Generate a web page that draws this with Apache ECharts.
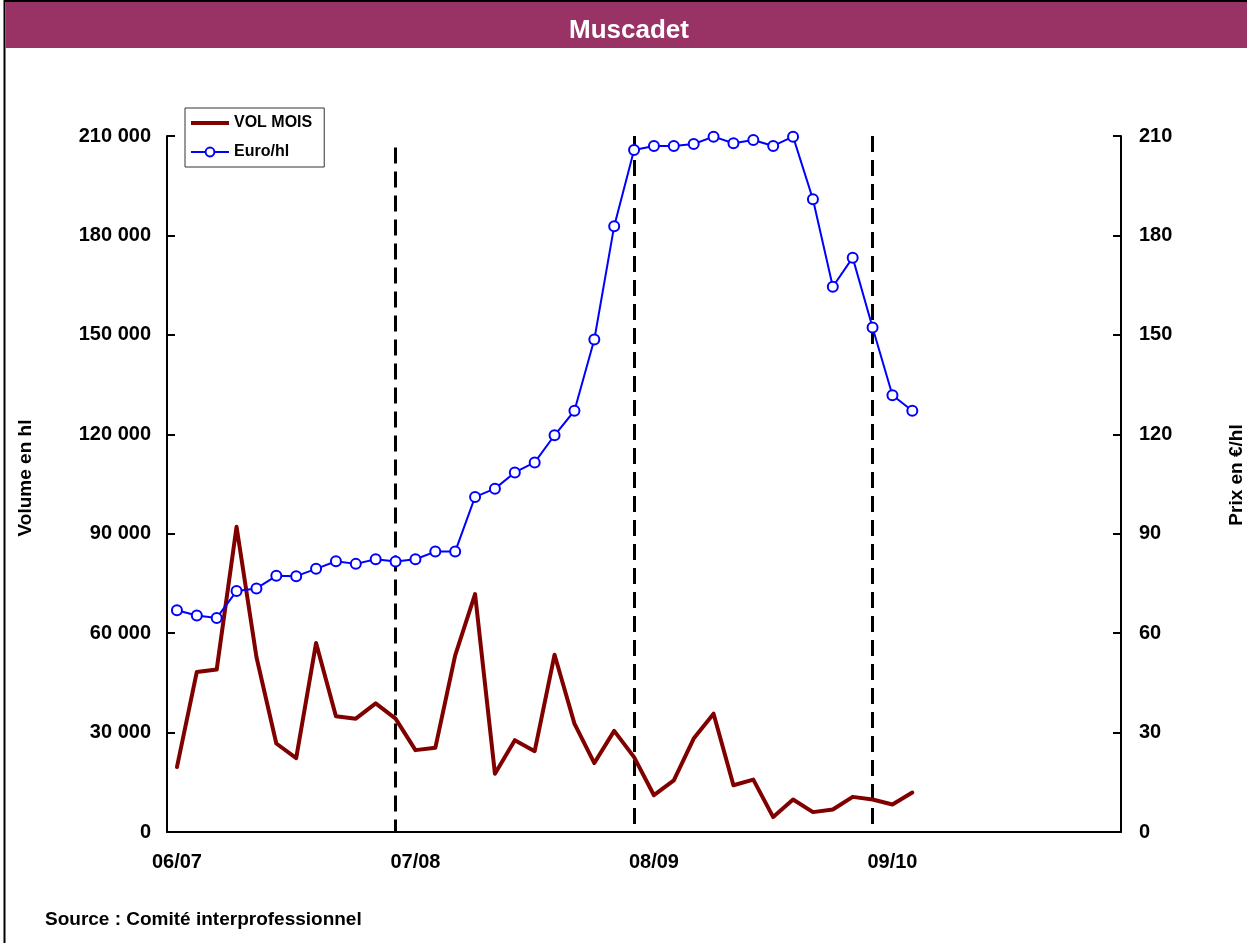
<!DOCTYPE html>
<html>
<head>
<meta charset="utf-8">
<script src="https://cdn.jsdelivr.net/npm/echarts@6/dist/echarts.min.js"></script>
<style>
  html, body { margin: 0; padding: 0; background: #fff; }
  #chart { width: 1247px; height: 943px; }
</style>
</head>
<body>
<div id="chart"></div>
<script>
// Season labels and where they sit on the monthly index
const seasonLabels = ['06/07', '07/08', '08/09', '09/10'];
const seasonLabelIdx = [0, 12, 24, 36];
// Month index of each season break (dashed separators)
const seasonBreakIdx = [11, 23, 35];
// Top of each dashed separator, in hl (left axis units)
const seasonBreakTop = [206500, 210000, 210000];

// Monthly volume (hl)
const volMois = [
  19600, 48300, 49000, 92100, 52800, 26700, 22300, 57000, 34900, 34200, 38800, 34200,
  24700, 25400, 53300, 71800, 17600, 27700, 24400, 53500, 32700, 20800, 30500, 22600,
  11100, 15600, 28200, 35700, 14100, 15800, 4500, 9800, 6000, 6800, 10600, 9800,
  8300, 11900
];
// Monthly price (€/hl)
const euroHl = [
  66.9, 65.3, 64.6, 72.7, 73.5, 77.3, 77.2, 79.4, 81.7, 80.9, 82.3, 81.6,
  82.3, 84.6, 84.6, 101.1, 103.6, 108.5, 111.5, 119.7, 127.1, 148.6, 182.8, 205.8,
  207.0, 207.0, 207.6, 209.8, 207.8, 208.8, 207.0, 209.8, 190.9, 164.5, 173.3, 152.2,
  131.8, 127.1
];

const FONT = "'Liberation Sans', Arial, sans-serif";
const chart = echarts.init(document.getElementById('chart'), null, { renderer: 'canvas' });

const thousands = v => String(v).replace(/\B(?=(\d{3})+(?!\d))/g, ' ');

chart.setOption({
  animation: false,
  backgroundColor: '#ffffff',
  graphic: [
    { type: 'rect', z: 0, shape: { x: 4.5, y: 1, width: 1260, height: 960 },
      style: { fill: 'none', stroke: '#000', lineWidth: 2 } },
    { type: 'rect', z: 1, shape: { x: 5.5, y: 2, width: 1242, height: 46 },
      style: { fill: '#993366' } },
    { type: 'text', z: 2, x: 629, y: 31,
      style: { text: 'Muscadet', fill: '#fff', font: 'bold 26px ' + FONT, align: 'center', verticalAlign: 'middle' } },
    { type: 'text', z: 2, x: 26, y: 478, rotation: Math.PI / 2,
      style: { text: 'Volume en hl', fill: '#000', font: 'bold 19px ' + FONT, align: 'center', verticalAlign: 'middle' } },
    { type: 'text', z: 2, x: 1237, y: 475, rotation: Math.PI / 2,
      style: { text: 'Prix en €/hl', fill: '#000', font: 'bold 19px ' + FONT, align: 'center', verticalAlign: 'middle' } },
    { type: 'text', z: 2, x: 45, y: 920,
      style: { text: 'Source : Comité interprofessionnel', fill: '#000', font: 'bold 19px ' + FONT, align: 'left', verticalAlign: 'middle' } }
  ],
  legend: {
    orient: 'vertical',
    left: 185,
    top: 108,
    backgroundColor: '#fff',
    borderColor: '#333',
    borderWidth: 1,
    borderRadius: 0,
    padding: [7, 12, 7, 5],
    itemWidth: 38,
    itemHeight: 11,
    itemGap: 13,
    textStyle: { fontFamily: FONT, fontWeight: 'bold', fontSize: 16, lineHeight: 16, color: '#000' },
    data: [
      { name: 'VOL MOIS', icon: 'path://M0,0L38,0L38,4L0,4Z' },
      { name: 'Euro/hl' }
    ]
  },
  grid: { left: 167, right: 126, top: 136, bottom: 111, containLabel: false },
  xAxis: {
    type: 'value',
    min: -0.5,
    max: 47.5,
    axisLine: { show: true, onZero: false, lineStyle: { color: '#000', width: 2 } },
    axisTick: { show: false },
    splitLine: { show: false },
    axisLabel: {
      customValues: seasonLabelIdx,
      formatter: v => seasonLabels[seasonLabelIdx.indexOf(v)] || '',
      margin: 20,
      color: '#000',
      fontFamily: FONT,
      fontWeight: 'bold',
      fontSize: 20
    }
  },
  yAxis: [
    {
      type: 'value',
      min: 0,
      max: 210000,
      interval: 30000,
      position: 'left',
      axisLine: { show: true, onZero: false, lineStyle: { color: '#000', width: 2 } },
      axisTick: { show: true, inside: true, length: 8, lineStyle: { color: '#000', width: 2 } },
      splitLine: { show: false },
      axisLabel: {
        formatter: thousands,
        margin: 16,
        color: '#000',
        fontFamily: FONT,
        fontWeight: 'bold',
        fontSize: 20
      }
    },
    {
      type: 'value',
      min: 0,
      max: 210,
      interval: 30,
      position: 'right',
      axisLine: { show: true, onZero: false, lineStyle: { color: '#000', width: 2 } },
      axisTick: { show: true, inside: true, length: 8, lineStyle: { color: '#000', width: 2 } },
      splitLine: { show: false },
      axisLabel: {
        margin: 18,
        color: '#000',
        fontFamily: FONT,
        fontWeight: 'bold',
        fontSize: 20
      }
    }
  ],
  series: [
    {
      name: 'VOL MOIS',
      type: 'line',
      yAxisIndex: 0,
      z: 2,
      symbol: 'none',
      color: '#800000',
      lineStyle: { color: '#800000', width: 4, join: 'round', cap: 'round' },
      data: volMois.map((v, i) => [i, v]),
      markLine: {
        silent: true,
        symbol: ['none', 'none'],
        label: { show: false },
        z: 1,
        lineStyle: { color: '#000', width: 3, type: [16, 8] },
        data: seasonBreakIdx.map((x, k) => [
          { coord: [x, seasonBreakTop[k]] },
          { coord: [x, 0] }
        ])
      }
    },
    {
      name: 'Euro/hl',
      type: 'line',
      yAxisIndex: 1,
      z: 3,
      symbol: 'emptyCircle',
      symbolSize: 10,
      color: '#0000ff',
      lineStyle: { color: '#0000ff', width: 2 },
      itemStyle: { color: '#0000ff', borderColor: '#0000ff', borderWidth: 2 },
      data: euroHl.map((v, i) => [i, v])
    }
  ]
});
</script>
</body>
</html>
